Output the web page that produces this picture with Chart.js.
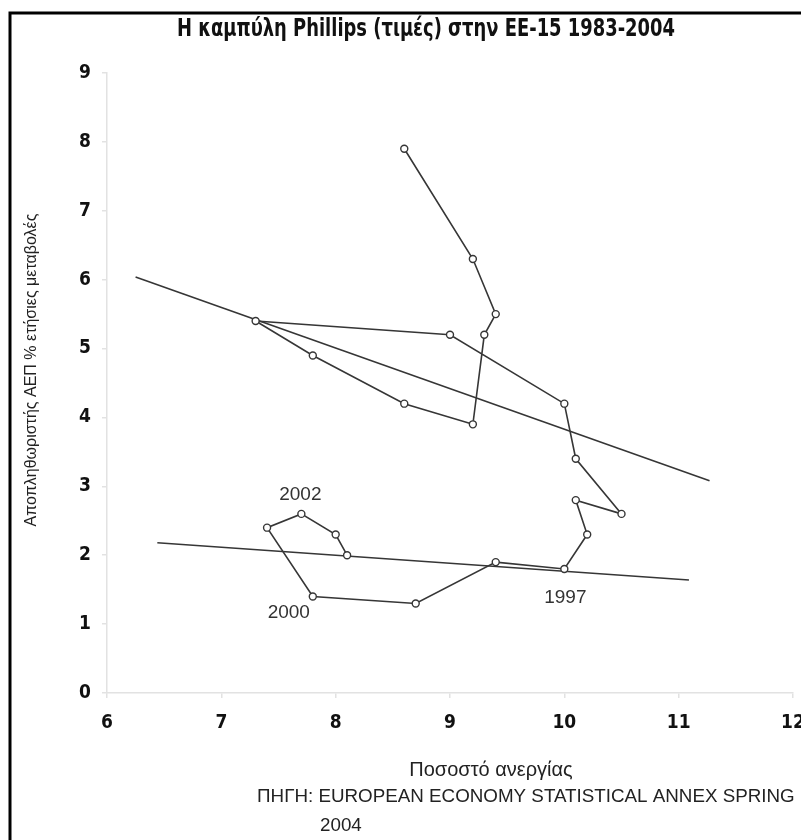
<!DOCTYPE html>
<html>
<head>
<meta charset="utf-8">
<script src="https://cdn.jsdelivr.net/npm/chart.js@4.4.0/dist/chart.umd.min.js"></script>
<style>
  body { margin: 0; background: #fff; }
  #chart { display: block; }
</style>
</head>
<body>
<canvas id="chart" width="801" height="840"></canvas>
<script>
// Καμπύλη Phillips ΕΕ-15, 1983-2004
const years = [1983, 1984, 1985, 1986, 1987, 1988, 1989, 1990, 1991, 1992, 1993,
               1994, 1995, 1996, 1997, 1998, 1999, 2000, 2001, 2002, 2003, 2004];
const unemployment = [8.6, 9.2, 9.4, 9.3, 9.2, 8.6, 7.8, 7.3, 9.0, 10.0, 10.1,
                      10.5, 10.1, 10.2, 10.0, 9.4, 8.7, 7.8, 7.4, 7.7, 8.0, 8.1];
const deflator = [7.9, 6.3, 5.5, 5.2, 3.9, 4.2, 4.9, 5.4, 5.2, 4.2, 3.4,
                  2.6, 2.8, 2.3, 1.8, 1.9, 1.3, 1.4, 2.4, 2.6, 2.3, 2.0];
// γραμμές τάσης (άκρα)
const trend1X = [6.25, 11.27];
const trend1Y = [6.04, 3.08];
const trend2X = [6.44, 11.09];
const trend2Y = [2.18, 1.64];
const labelledYears = [2002, 2000, 1997];
const xTicks = [6, 7, 8, 9, 10, 11, 12];
const yTicks = [0, 1, 2, 3, 4, 5, 6, 7, 8, 9];

const NARROW = "'Liberation Sans Narrow', 'DejaVu Sans Condensed', 'Liberation Sans', sans-serif";
const SANS = "'Liberation Sans', Arial, sans-serif";
const LINE = '#363636';

const toPoints = (xs, ys) => xs.map((x, i) => ({ x: x, y: ys[i] }));

// offsets of the year labels from their point
const labelOffset = { 2002: [-1, -19], 2000: [-24, 16], 1997: [1, 29] };

const decorations = {
    id: 'decorations',
    beforeDraw(chart) {
        const c = chart.ctx;
        c.save();
        c.fillStyle = '#fff';
        c.fillRect(0, 0, chart.width, chart.height);
        c.strokeStyle = '#000';
        c.lineWidth = 3;
        c.beginPath();
        c.moveTo(10, chart.height + 5);
        c.lineTo(10, 13);
        c.lineTo(chart.width + 5, 13);
        c.stroke();
        c.restore();
    },
    afterDraw(chart) {
        const c = chart.ctx;
        const xs = chart.scales.x, ys = chart.scales.y;
        c.save();
        c.fillStyle = '#111';
        c.textAlign = 'center';
        c.textBaseline = 'middle';

        // title, squeezed to a condensed look
        c.save();
        c.translate(426, 30);
        c.scale(0.83, 1);
        c.font = 'bold 24px ' + NARROW;
        c.fillText('Η καμπύλη Phillips (τιμές) στην ΕΕ-15 1983-2004', 0, 0);
        c.restore();

        c.fillStyle = '#222';
        c.font = '20px ' + SANS;
        c.fillText('Ποσοστό ανεργίας', 491, 770);

        c.save();
        c.translate(32, 370);
        c.rotate(-Math.PI / 2);
        c.font = '16px ' + SANS;
        c.fillText('Αποπληθωριστής ΑΕΠ % ετήσιες μεταβολές', 0, 0);
        c.restore();

        c.textAlign = 'left';
        c.font = '18.8px ' + SANS;
        c.fillText('ΠΗΓΗ: EUROPEAN ECONOMY STATISTICAL ANNEX SPRING', 257, 797);
        c.fillText('2004', 320, 826);

        c.textAlign = 'center';
        c.fillStyle = '#333';
        c.font = '19px ' + SANS;
        labelledYears.forEach(y => {
            const i = years.indexOf(y);
            const px = xs.getPixelForValue(unemployment[i]);
            const py = ys.getPixelForValue(deflator[i]);
            const off = labelOffset[y];
            c.fillText(String(y), px + off[0], py + off[1]);
        });
        c.restore();
    }
};

const axisGrid = { drawOnChartArea: false, color: '#e2e2e2', tickLength: 5, lineWidth: 1.5 };

new Chart(document.getElementById('chart'), {
    type: 'scatter',
    data: {
        datasets: [
            {
                label: 'ΕΕ-15',
                data: toPoints(unemployment, deflator),
                showLine: true,
                borderColor: LINE,
                borderWidth: 1.6,
                pointRadius: 3.5,
                pointBorderWidth: 1.4,
                pointBorderColor: LINE,
                pointBackgroundColor: '#fff'
            },
            {
                label: 'τάση 1',
                data: toPoints(trend1X, trend1Y),
                showLine: true,
                borderColor: LINE,
                borderWidth: 1.6,
                pointRadius: 0
            },
            {
                label: 'τάση 2',
                data: toPoints(trend2X, trend2Y),
                showLine: true,
                borderColor: LINE,
                borderWidth: 1.6,
                pointRadius: 0
            }
        ]
    },
    options: {
        responsive: false,
        animation: false,
        layout: { padding: { left: 0, top: 73, right: 8, bottom: 107 } },
        plugins: { legend: { display: false }, tooltip: { enabled: false } },
        scales: {
            x: {
                type: 'linear',
                min: 6, max: 12,
                afterBuildTicks: s => { s.ticks = xTicks.map(v => ({ value: v })); },
                afterFit: s => { s.height = 40; s.paddingLeft = 0; s.paddingRight = 0; },
                ticks: { color: '#111', padding: 14, font: { family: NARROW, size: 19, weight: 'bold' } },
                grid: axisGrid,
                border: { color: '#e2e2e2', width: 1.5 }
            },
            y: {
                min: 0, max: 9,
                afterBuildTicks: s => { s.ticks = yTicks.map(v => ({ value: v })); },
                afterFit: s => { s.width = 107; s.paddingTop = 0; s.paddingBottom = 0; },
                ticks: { color: '#111', padding: 11, font: { family: NARROW, size: 19, weight: 'bold' } },
                grid: axisGrid,
                border: { color: '#e2e2e2', width: 1.5 }
            }
        }
    },
    plugins: [decorations]
});
</script>
</body>
</html>
